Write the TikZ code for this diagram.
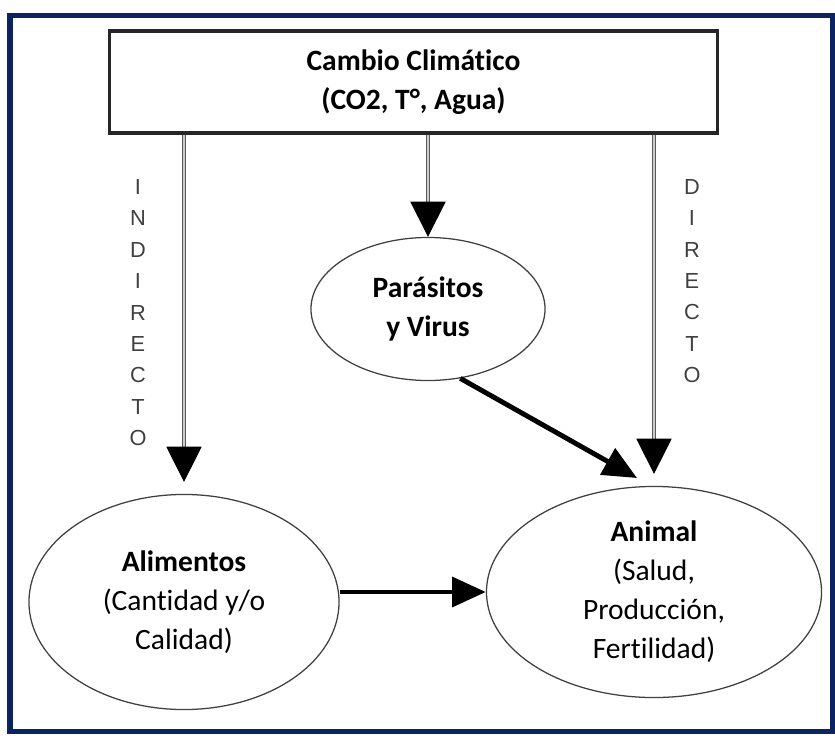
\documentclass[tikz,border=0pt]{standalone}
\usepackage{fontspec}
\setmainfont{Carlito}[Ligatures=NoCommon]
\newfontfamily\letrasfont{Liberation Sans}
\usetikzlibrary{arrows.meta,shapes.geometric}
\definecolor{marco}{HTML}{0B2461}

\begin{document}
\begin{tikzpicture}[x=0.025cm,y=-0.025cm,
	caja/.style={draw=black!85,line width=2.2pt,minimum width=15.175cm,minimum height=2.55cm,align=center,font=\fontsize{21}{28}\selectfont\bfseries},
	elipse/.style={ellipse,draw=black!75,line width=0.9pt,inner sep=0pt,align=center,font=\fontsize{21}{27.7}\selectfont},
	letra/.style={font=\letrasfont\fontsize{15.5}{16}\selectfont,text=black!75},
	doble/.style={draw=black!65,double=black!20,line width=0.8pt,double distance=1.8pt,-{Triangle[length=25pt,width=25pt,color=black,fill=black]}},
	grueso/.style={line width=3.5pt,-{Triangle[length=24pt,width=21pt]}}]
			\useasboundingbox (0,0) rectangle (835,737);
			\draw[marco,line width=4pt] (10,15.5) rectangle (832.5,731.5);
			\node[caja] (clima) at (413.5,82) {Cambio Climático\\(CO2, T°, Agua)};
			\node[elipse,minimum width=5.85cm,minimum height=3.575cm] (parasitos) at (428,309) {\textbf{Parásitos}\\\textbf{y Virus}};
			\node[elipse,minimum width=7.75cm,minimum height=5.375cm] (alimentos) at (184,602) {\textbf{Alimentos}\\(Cantidad y/o\\Calidad)};
			\node[elipse,minimum width=8.375cm,minimum height=5.275cm] (animal) at (654,592) {\textbf{Animal}\\(Salud,\\Producción,\\Fertilidad)};
			\coordinate (puntadiag) at (637,478);
			\foreach \l [count=\i] in {I,N,D,I,R,E,C,T,O}
				\node[letra] (ind\i) at (138,187+31.4*\i-31.4) {\l};
			\foreach \l [count=\i] in {D,I,R,E,C,T,O}
				\node[letra] (dir\i) at (692,187+31.3*\i-31.3) {\l};
			\draw[doble,shorten >=8.5pt] (clima.south -| alimentos.north) -- (alimentos.north);
			\draw[doble] (clima.south -| parasitos.north) -- (parasitos.north);
			\draw[doble,shorten >=8.5pt] (clima.south -| animal.north) -- (animal.north);
			\draw[grueso] (parasitos.-65) -- (puntadiag);
			\draw[grueso] (alimentos.east |- animal.west) -- (animal.west);
		\end{tikzpicture}
\end{document}
